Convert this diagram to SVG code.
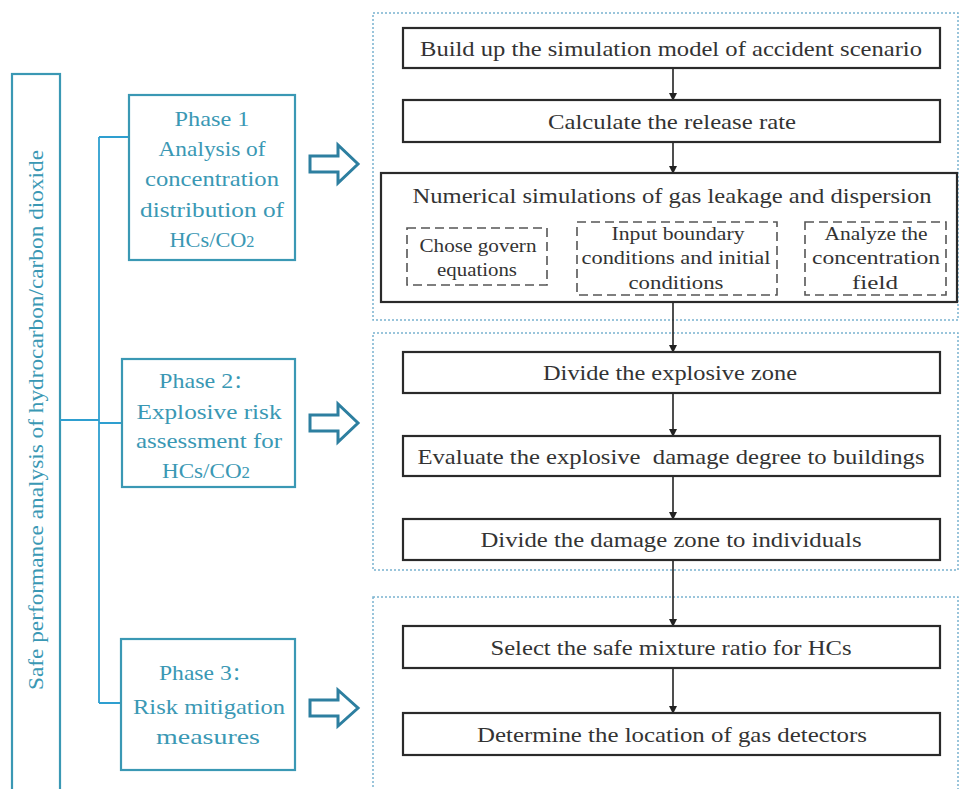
<svg xmlns="http://www.w3.org/2000/svg" width="960" height="789" viewBox="0 0 960 789">
<defs>
<marker id="ah" markerWidth="8" markerHeight="8" refX="7" refY="4" orient="auto" markerUnits="userSpaceOnUse">
<path d="M0,0 L8,4 L0,8 Z" fill="#222"/>
</marker>
<style>
.region{fill:none;stroke:#7ab3cf;stroke-width:1.5;stroke-dasharray:2 2}
.box{fill:#fff;stroke:#2a2a2a;stroke-width:2.2}
.dbox{fill:#fff;stroke:#555;stroke-width:1.6;stroke-dasharray:9 5}
.pbox{fill:#fff;stroke:#3a98b4;stroke-width:2.2}
text{font-family:'Liberation Serif','Times New Roman','DejaVu Serif',serif}
.t{font-size:22px;fill:#333;text-anchor:middle}
.ts{font-size:18.5px;fill:#333;text-anchor:middle}
.pt{font-size:22px;fill:#3a98b4;text-anchor:middle}
.cjk{font-family:'Noto Sans CJK SC',sans-serif}
.tree{fill:none;stroke:#2e9fd0;stroke-width:1.8}
.blk{fill:#fff;stroke:#2d7fa0;stroke-width:3;stroke-linejoin:miter}
.ln{fill:none;stroke:#222;stroke-width:1.6}
</style>
</defs>
<rect width="960" height="789" fill="#fff"/>

<g id="regions">
<rect class="region" x="373" y="13" width="585" height="307"/>
<rect class="region" x="373" y="333" width="585" height="237"/>
<rect class="region" x="373" y="597" width="585" height="200"/>
</g>

<g id="root">
<rect class="pbox" x="12" y="74" width="48" height="730"/>
<text class="pt" transform="translate(43,420) rotate(-90)" textLength="540" lengthAdjust="spacingAndGlyphs">Safe performance analysis of hydrocarbon/carbon dioxide</text>
</g>

<g id="connectors">
<path class="tree" d="M60,420 H99 M99,137 V703 M99,137 H129 M99,423 H122 M99,703 H121"/>
<path class="blk" d="M310,156 H338 V145 L358,164 L338,183 V172 H310 Z"/>
<path class="blk" d="M310,415 H338 V404 L358,423 L338,442 V431 H310 Z"/>
<path class="blk" d="M310,700 H338 V690 L358,708 L338,726 V716 H310 Z"/>
<line class="ln" x1="673" y1="68" x2="673" y2="100" marker-end="url(#ah)"/>
<line class="ln" x1="673" y1="142" x2="673" y2="173" marker-end="url(#ah)"/>
<line class="ln" x1="673" y1="302" x2="673" y2="352" marker-end="url(#ah)"/>
<line class="ln" x1="673" y1="393" x2="673" y2="436" marker-end="url(#ah)"/>
<line class="ln" x1="673" y1="476" x2="673" y2="519" marker-end="url(#ah)"/>
<line class="ln" x1="673" y1="560" x2="673" y2="626" marker-end="url(#ah)"/>
<line class="ln" x1="673" y1="668" x2="673" y2="713" marker-end="url(#ah)"/>
<line class="ln" x1="547" y1="256" x2="577" y2="256" marker-end="url(#ah)"/>
<line class="ln" x1="777" y1="256" x2="805" y2="256" marker-end="url(#ah)"/>
</g>

<g id="phase1">
<rect class="pbox" x="129" y="95" width="166" height="165"/>
<text class="pt" x="212" y="126" textLength="75" lengthAdjust="spacingAndGlyphs">Phase 1</text>
<text class="pt" x="212" y="156" textLength="107" lengthAdjust="spacingAndGlyphs">Analysis of</text>
<text class="pt" x="212" y="186" textLength="134" lengthAdjust="spacingAndGlyphs">concentration</text>
<text class="pt" x="212" y="217" textLength="144" lengthAdjust="spacingAndGlyphs">distribution of</text>
<text class="pt" x="212" y="247" textLength="85" lengthAdjust="spacingAndGlyphs">HCs/CO<tspan style="font-size:16px">2</tspan></text>
</g>
<g id="phase2">
<rect class="pbox" x="122" y="359" width="173" height="128"/>
<text class="pt" x="206" y="388" textLength="94" lengthAdjust="spacingAndGlyphs">Phase 2<tspan class="cjk" style="font-size:18px">：</tspan></text>
<text class="pt" x="209" y="419" textLength="145" lengthAdjust="spacingAndGlyphs">Explosive risk</text>
<text class="pt" x="209" y="448" textLength="146" lengthAdjust="spacingAndGlyphs">assessment for</text>
<text class="pt" x="206" y="478" textLength="88" lengthAdjust="spacingAndGlyphs">HCs/CO<tspan style="font-size:16px">2</tspan></text>
</g>
<g id="phase3">
<rect class="pbox" x="121" y="639" width="174" height="131"/>
<text class="pt" x="205" y="680" textLength="92" lengthAdjust="spacingAndGlyphs">Phase 3<tspan class="cjk" style="font-size:18px">：</tspan></text>
<text class="pt" x="209" y="714" textLength="152" lengthAdjust="spacingAndGlyphs">Risk mitigation</text>
<text class="pt" x="208" y="744" textLength="104" lengthAdjust="spacingAndGlyphs">measures</text>
</g>

<g id="build">
<rect class="box" x="403" y="28" width="537" height="40"/>
<text class="t" x="671" y="56" textLength="502" lengthAdjust="spacingAndGlyphs">Build up the simulation model of accident scenario</text>
</g>
<g id="calc">
<rect class="box" x="403" y="100" width="537" height="42"/>
<text class="t" x="672" y="129" textLength="248" lengthAdjust="spacingAndGlyphs">Calculate the release rate</text>
</g>
<g id="numerical">
<rect class="box" x="381" y="173" width="576" height="129"/>
<text class="t" x="672" y="203" textLength="519" lengthAdjust="spacingAndGlyphs">Numerical simulations of gas leakage and dispersion</text>
</g>
<g id="chose">
<rect class="dbox" x="407" y="228" width="140" height="57"/>
<text class="ts" x="478" y="252" textLength="117" lengthAdjust="spacingAndGlyphs">Chose govern</text>
<text class="ts" x="477" y="276" textLength="80" lengthAdjust="spacingAndGlyphs">equations</text>
</g>
<g id="input">
<rect class="dbox" x="577" y="222" width="200" height="73"/>
<text class="ts" x="678" y="240" textLength="133" lengthAdjust="spacingAndGlyphs">Input boundary</text>
<text class="ts" x="676" y="264" textLength="189" lengthAdjust="spacingAndGlyphs">conditions and initial</text>
<text class="ts" x="676" y="289" textLength="95" lengthAdjust="spacingAndGlyphs">conditions</text>
</g>
<g id="analyze">
<rect class="dbox" x="805" y="222" width="141" height="73"/>
<text class="ts" x="876" y="240" textLength="103" lengthAdjust="spacingAndGlyphs">Analyze the</text>
<text class="ts" x="876" y="264" textLength="128" lengthAdjust="spacingAndGlyphs">concentration</text>
<text class="ts" x="875" y="289" textLength="46" lengthAdjust="spacingAndGlyphs">field</text>
</g>
<g id="divide1">
<rect class="box" x="403" y="352" width="537" height="41"/>
<text class="t" x="670" y="380" textLength="254" lengthAdjust="spacingAndGlyphs">Divide the explosive zone</text>
</g>
<g id="evaluate">
<rect class="box" x="403" y="436" width="537" height="40"/>
<text class="t" x="671" y="464" xml:space="preserve" textLength="507" lengthAdjust="spacingAndGlyphs">Evaluate the explosive  damage degree to buildings</text>
</g>
<g id="divide2">
<rect class="box" x="403" y="519" width="537" height="41"/>
<text class="t" x="671" y="547" textLength="381" lengthAdjust="spacingAndGlyphs">Divide the damage zone to individuals</text>
</g>
<g id="select">
<rect class="box" x="403" y="626" width="537" height="42"/>
<text class="t" x="671" y="655" textLength="361" lengthAdjust="spacingAndGlyphs">Select the safe mixture ratio for HCs</text>
</g>
<g id="determine">
<rect class="box" x="403" y="713" width="537" height="42"/>
<text class="t" x="672" y="742" textLength="390" lengthAdjust="spacingAndGlyphs">Determine the location of gas detectors</text>
</g>
</svg>
